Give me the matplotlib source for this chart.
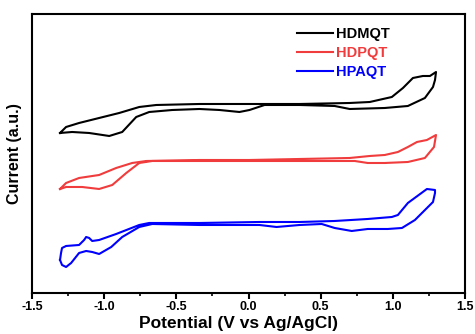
import matplotlib
matplotlib.use("Agg")
import matplotlib.pyplot as plt
from matplotlib.ticker import MultipleLocator

plt.rcParams['font.family'] = ['Liberation Sans', 'DejaVu Sans']
plt.rcParams['axes.unicode_minus'] = False

# HDMQT (black) closed CV loop: potential (V) and current (a.u.)
hdmqt_v = [-1.306, -1.264, -1.174, -1.035, -0.896, -0.757, -0.639, -0.340, -0.063, 0.354, 0.701, 0.840,
           0.993, 1.070, 1.139, 1.208, 1.257, 1.299,
           1.292, 1.278, 1.222, 1.104, 0.944, 0.701, 0.597, 0.354, 0.111, 0.007, -0.063, -0.201,
           -0.340, -0.528, -0.688, -0.778, -0.875, -0.965, -1.104, -1.222, -1.306]
hdmqt_i = [160, 166, 170, 175, 180, 186, 188, 189, 189, 189, 190, 191,
           196, 205, 215, 217, 217, 221,
           213, 206, 195, 187, 185, 184, 187, 188, 188, 183, 181, 183,
           184, 183, 181, 176, 161, 157, 160, 161, 160]

# HDPQT (red)
hdpqt_v = [-1.306, -1.264, -1.174, -1.035, -0.917, -0.806, -0.708, -0.340, 0.007, 0.354, 0.701, 0.840,
           0.944, 1.035, 1.104, 1.167, 1.236, 1.299,
           1.285, 1.222, 1.104, 0.944, 0.826, 0.736, 0.354, -0.340, -0.667, -0.757, -0.847,
           -0.944, -1.035, -1.153, -1.264, -1.306]
hdpqt_i = [104, 110, 115, 118, 125, 130, 132, 133, 133, 134, 135, 137,
           138, 141, 146, 151, 153, 158,
           146, 135, 131, 130, 130, 132, 132, 132, 132, 130, 120,
           108, 104, 106, 106, 104]

# HPAQT (blue)
hpaqt_v = [-1.306, -1.299, -1.292, -1.264, -1.174, -1.139, -1.125, -1.104, -1.083, -1.035, -0.917,
           -0.757, -0.688, -0.340, 0.076, 0.354, 0.597, 0.826, 0.993, 1.035, 1.104, 1.236, 1.292,
           1.292, 1.278, 1.153, 1.063, 0.965, 0.826, 0.715, 0.597, 0.507, 0.354, 0.194, 0.076,
           -0.340, -0.667, -0.757, -0.875, -0.951, -1.035, -1.083, -1.125, -1.174, -1.229,
           -1.264, -1.292, -1.306]
hpaqt_i = [33, 40, 45, 47, 48, 53, 56, 55, 52, 53, 59,
           68, 70, 70, 71, 71, 72, 74, 76, 78, 90, 104, 103,
           100, 91, 73, 65, 64, 64, 62, 65, 69, 68, 66, 68,
           68, 69, 66, 56, 46, 39, 41, 42, 40, 30,
           26, 28, 33]

names = ['HDMQT', 'HDPQT', 'HPAQT']
colors = ['#000000', '#f03c3c', '#0000ff']
x_ticks = [-1.5, -1.0, -0.5, 0.0, 0.5, 1.0, 1.5]

fig = plt.figure(figsize=(4.75, 3.34), dpi=100)
ax = fig.add_axes([0.0674, 0.1228, 0.9116, 0.8353])

for v, i, n, c in zip([hdmqt_v, hdpqt_v, hpaqt_v], [hdmqt_i, hdpqt_i, hpaqt_i], names, colors):
    ax.plot(v, i, color=c, lw=1.5, label=n, solid_joinstyle='round')

ax.set_xlim(-1.5, 1.5)
ax.set_ylim(0, 279)
ax.set_xticks(x_ticks)
ax.set_xticklabels([f"{t:.1f}" for t in x_ticks], fontweight='bold', fontsize=9)
ax.xaxis.set_minor_locator(MultipleLocator(0.25))
ax.set_yticks([])
ax.tick_params(axis='x', which='major', direction='out', length=4, width=1.5, pad=2)
ax.tick_params(axis='x', which='minor', direction='out', length=2.5, width=1.2)
for s in ax.spines.values():
    s.set_linewidth(1.5)

ax.set_xlabel('Potential (V vs Ag/AgCl)', fontsize=12.5, fontweight='bold')
ax.xaxis.set_label_coords(0.477, -0.083)
ax.set_ylabel('Current (a.u.)', fontsize=11.5, fontweight='bold', labelpad=7)

leg = ax.legend(loc='upper left', bbox_to_anchor=(0.612, 0.952), frameon=False,
                prop={'weight': 'bold', 'size': 10.5}, handlelength=2.45, handletextpad=0.25,
                labelspacing=0.33, borderaxespad=0, borderpad=0)
for t, c in zip(leg.get_texts(), colors):
    t.set_color(c)

fig.savefig('out.png', dpi=100)
